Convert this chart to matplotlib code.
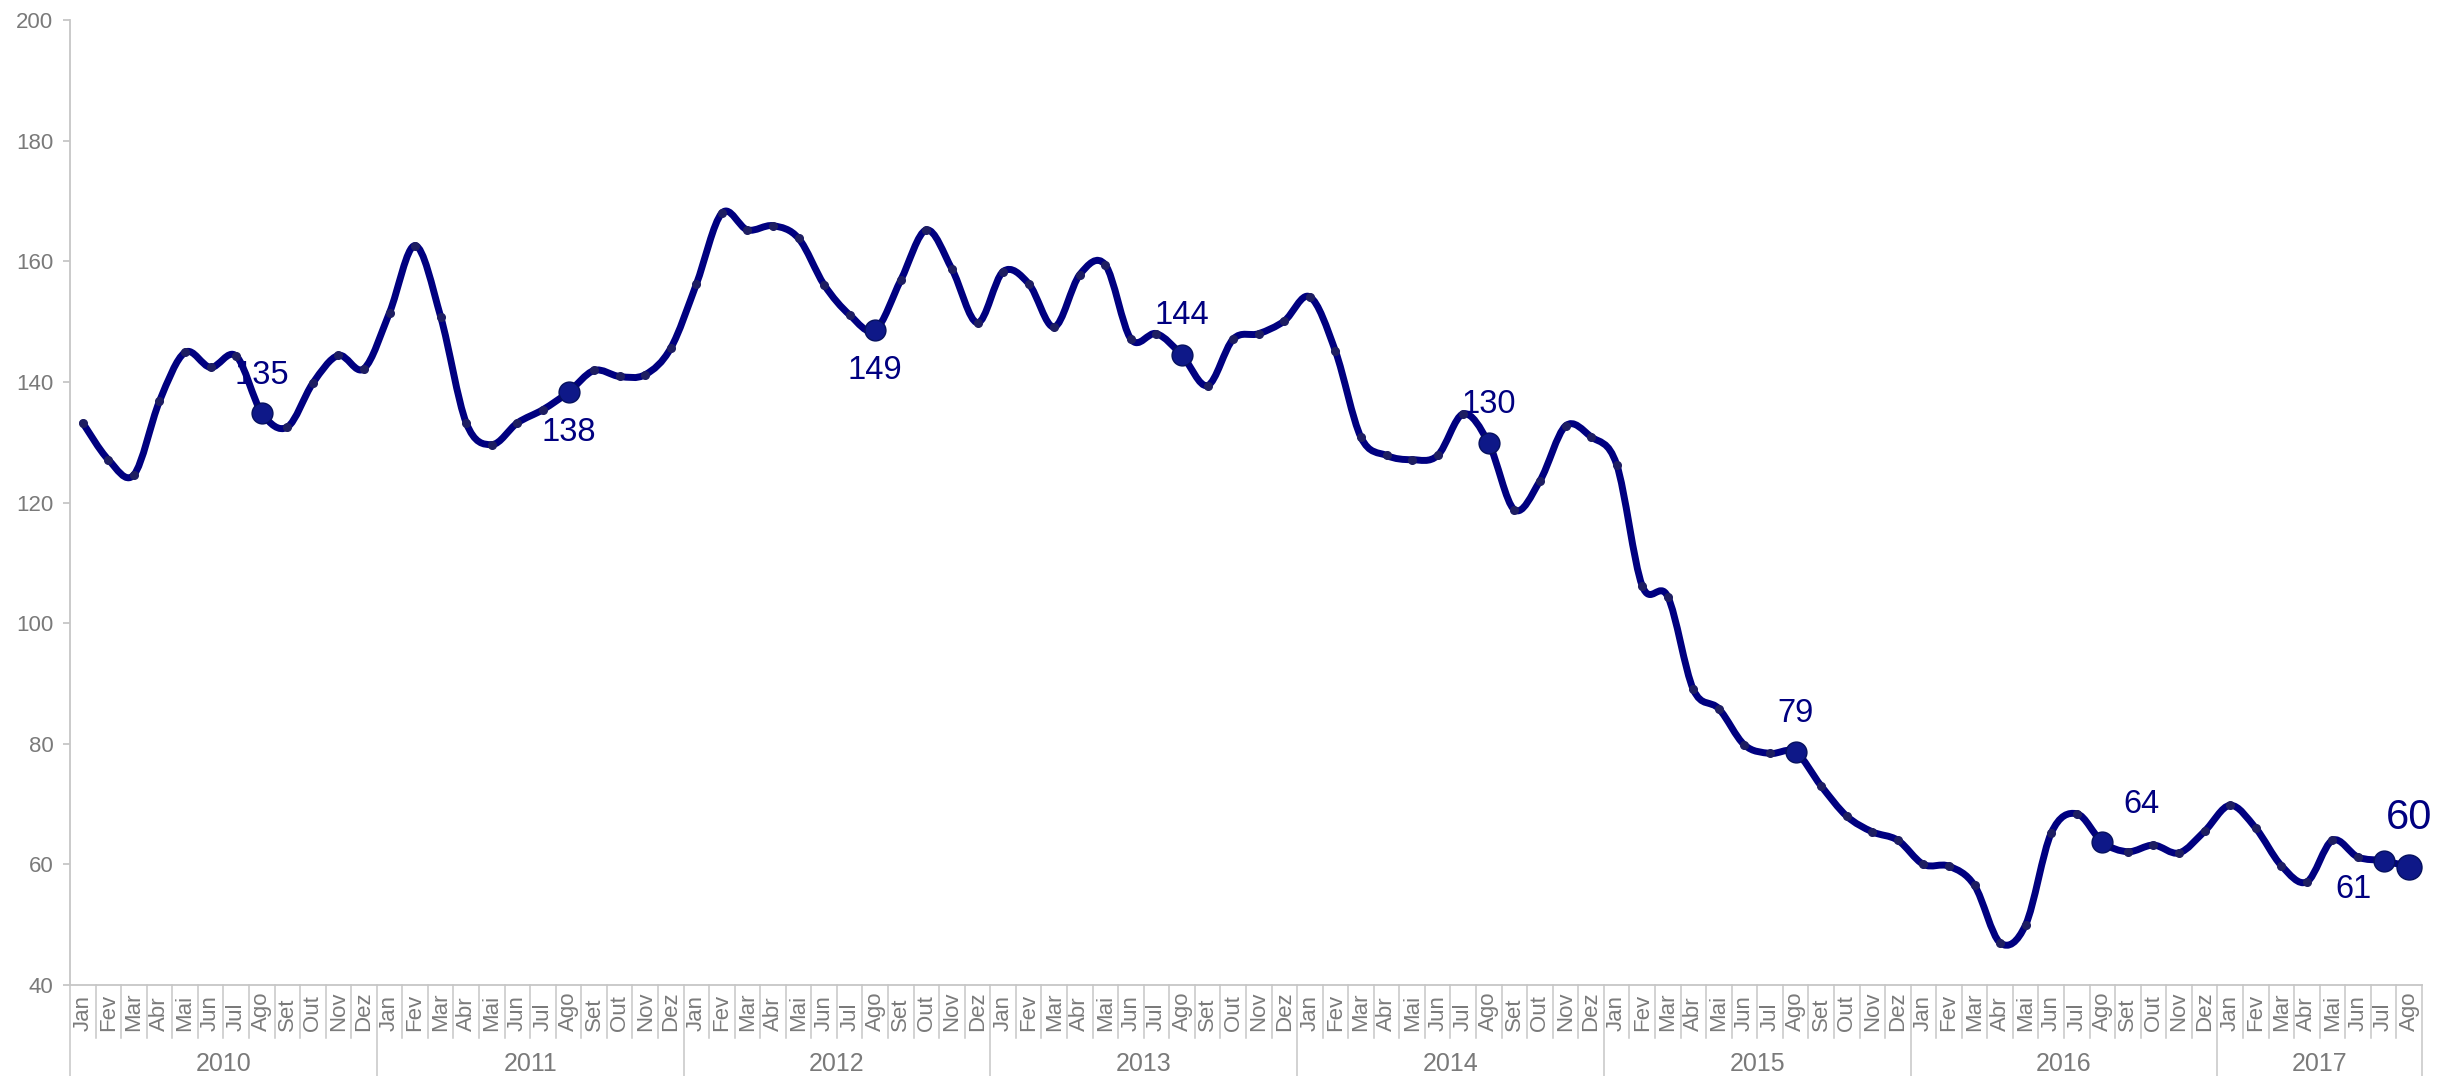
import matplotlib
matplotlib.use("Agg")  # sem tela
import matplotlib.pyplot as plt
import numpy as np
from matplotlib.path import Path
from matplotlib.patches import PathPatch
from matplotlib.transforms import blended_transform_factory

plt.rcParams["font.family"] = ["Liberation Sans", "DejaVu Sans"]

MESES = ["Jan", "Fev", "Mar", "Abr", "Mai", "Jun",
         "Jul", "Ago", "Set", "Out", "Nov", "Dez"]
ANOS = ["2010", "2011", "2012", "2013", "2014", "2015", "2016", "2017"]

V2010 = [133.2, 127.1, 124.6, 136.8, 144.9, 142.4, 144.3, 134.9, 132.5, 139.8, 144.4, 142.2]
V2011 = [151.5, 162.6, 150.8, 133.2, 129.6, 133.2, 135.4, 138.3, 141.9, 140.9, 141.2, 145.6]
V2012 = [156.2, 168.0, 165.2, 165.9, 163.8, 156.1, 151.1, 148.6, 156.9, 165.2, 158.7, 149.8]
V2013 = [158.3, 156.3, 149.1, 157.8, 159.4, 147.1, 148.0, 144.4, 139.4, 147.1, 148.0, 150.1]
V2014 = [154.1, 145.1, 130.8, 127.8, 127.1, 127.8, 134.7, 129.8, 118.8, 123.6, 132.7, 130.9]
V2015 = [126.3, 106.2, 104.4, 89.0, 85.8, 79.8, 78.4, 78.6, 73.0, 68.0, 65.4, 64.0]
V2016 = [60.0, 59.7, 56.5, 47.0, 50.0, 65.2, 68.4, 63.7, 62.1, 63.2, 61.9, 65.5]
V2017 = [69.8, 66.0, 59.8, 57.1, 64.0, 61.2, 60.6, 59.6]

VALORES = V2010 + V2011 + V2012 + V2013 + V2014 + V2015 + V2016 + V2017
ROTULOS_MES = MESES * 7 + MESES[:len(V2017)]

# pontos destacados (indice do mes) e texto mostrado
DESTAQUE_IDX = [7, 19, 31, 43, 55, 67, 79, 90, 91]
DESTAQUE_TXT = ["135", "138", "149", "144", "130", "79", "64", "61", "60"]

# estilo
AZUL = "#000080"
CINZA = "#7a7a7a"
LINHA_EIXO = "#c6c6c6"
DESLOC = [(0, 27), (0, -29), (0, -29), (0, 29), (0, 28), (0, 28), (28, 27), (-22, -21), (0, 35)]


def caminho_suave(x, y):
    # curva bezier tipo "linha suavizada" do Excel (catmull-rom)
    p = np.column_stack([x, y])
    ant = np.vstack([p[:1], p[:-1]])
    prox = np.vstack([p[1:], p[-1:]])
    tang = (prox - ant) / 6.0
    verts = [p[0]]
    codes = [Path.MOVETO]
    for i in range(len(p) - 1):
        verts += [p[i] + tang[i], p[i + 1] - tang[i + 1], p[i + 1]]
        codes += [Path.CURVE4] * 3
    return Path(verts, codes)


n = len(VALORES)
x = np.arange(n)
y = np.array(VALORES)

fig = plt.figure(figsize=(24.4, 10.76), dpi=100)
ax = fig.add_axes([0.02869, 0.08457, 0.9639, 0.8968])
ax.set_xlim(-0.5, n - 0.5)
ax.set_ylim(40, 200)
ax.set_yticks(range(40, 201, 20))
ax.set_xticks([])

for lado in ("top", "right"):
    ax.spines[lado].set_visible(False)
for lado in ("left", "bottom"):
    ax.spines[lado].set_color(LINHA_EIXO)
    ax.spines[lado].set_linewidth(1.3)
ax.tick_params(axis="y", color=LINHA_EIXO, labelcolor=CINZA, labelsize=16,
               length=5, width=1.3, pad=7)

# eixo de categorias em dois niveis (mes / ano)
trans = blended_transform_factory(ax.transData, ax.transAxes)
fundo = -0.0845 / 0.8968
for i in range(n + 1):
    fim = fundo if (i % 12 == 0 or i == n) else -0.055
    ax.plot([i - 0.5, i - 0.5], [0, fim], transform=trans, clip_on=False,
            color=LINHA_EIXO, lw=1.1)
for i, mes in enumerate(ROTULOS_MES):
    ax.text(i, -0.0477, mes, rotation=90, ha="center", va="bottom",
            transform=trans, fontsize=16, color=CINZA)
for k, ano in enumerate(ANOS):
    ini = 12 * k
    fim = min(ini + 11, n - 1)
    ax.text((ini + fim) / 2, -0.0819, ano, ha="center", va="center",
            transform=trans, fontsize=18, color=CINZA)

# linha suavizada
ax.add_patch(PathPatch(caminho_suave(x, y), facecolor="none", edgecolor=AZUL,
                       lw=5, zorder=3, capstyle="round", joinstyle="round"))
ax.plot(x, y, "o", ms=5.5, color="#1e1e62", zorder=4)

idx = np.array(DESTAQUE_IDX)
ax.plot(x[idx[:-1]], y[idx[:-1]], "o", ms=15, mfc="#0e1888", mec="#05105e",
        mew=1, zorder=5)
ax.plot(x[idx[-1:]], y[idx[-1:]], "o", ms=18, mfc="#0e1888", mec="#05105e",
        mew=1, zorder=5)

for k, (i, txt) in enumerate(zip(DESTAQUE_IDX, DESTAQUE_TXT)):
    tam = 30 if k == len(DESTAQUE_IDX) - 1 else 23.5
    ax.annotate(txt, (x[i], y[i]), xytext=DESLOC[k], textcoords="offset points",
                ha="center", va="center", fontsize=tam, color=AZUL, zorder=2)

fig.savefig("out.png", dpi=100)
plt.close(fig)
